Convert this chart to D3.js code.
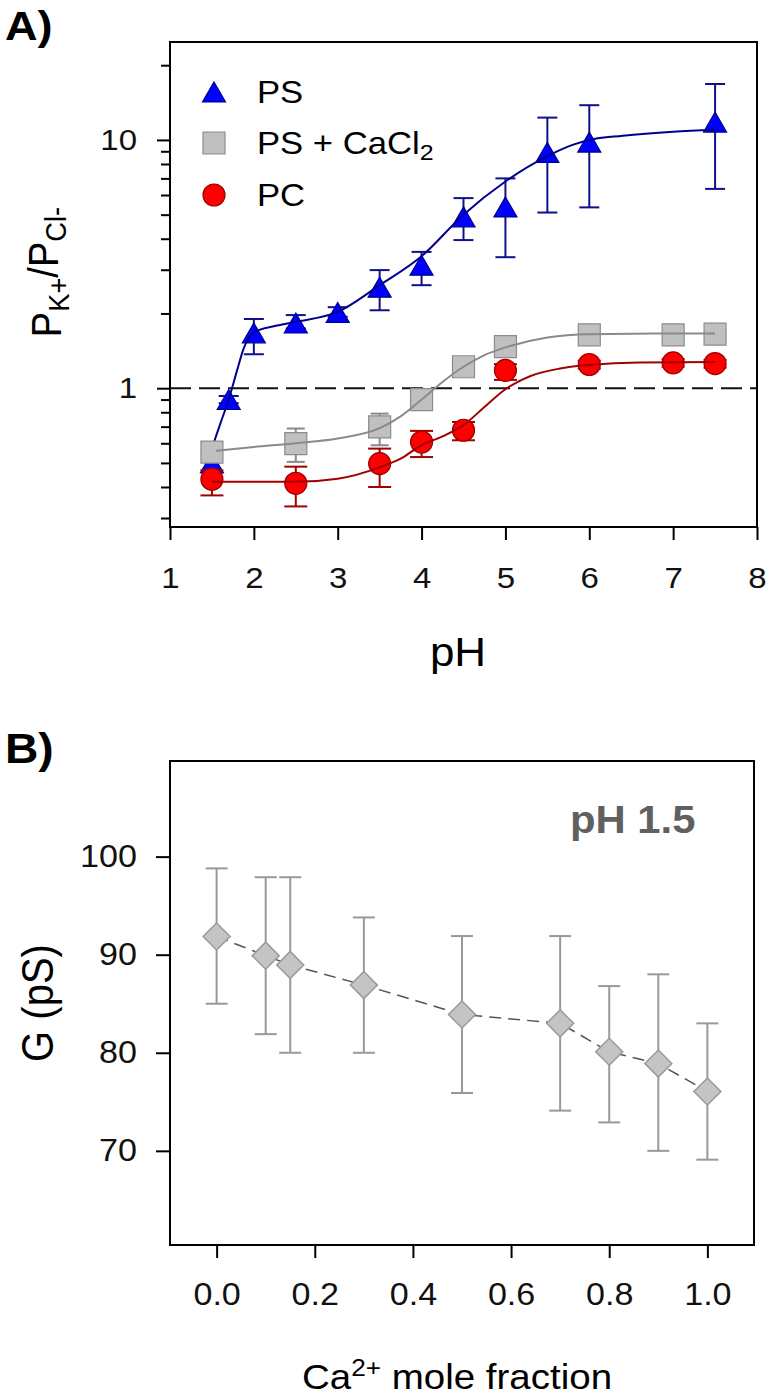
<!DOCTYPE html>
<html><head><meta charset="utf-8">
<script src="https://cdn.jsdelivr.net/npm/d3@7"></script>
<style>body{margin:0;background:#fff} svg{display:block}</style>
</head><body>
<svg id="c" width="768" height="1399"></svg>
<script>
// ---------------- DATA ----------------
// Panel A ticks
const phTicks = [1, 2, 3, 4, 5, 6, 7, 8];
const ratioMajorTicks = [1, 10];
const ratioMinorTicks = [0.3, 0.4, 0.5, 0.6, 0.7, 0.8, 0.9, 2, 3, 4, 5, 6, 7, 8, 9, 20];

// PS (blue triangles)
const psPH  = [1.5, 1.7, 2.0, 2.5, 3.0, 3.5, 4.0, 4.5, 5.0, 5.5, 6.0, 7.5];
const psVal = [0.50, 0.90, 1.67, 1.83, 2.02, 2.55, 3.13, 4.9, 5.37, 8.9, 9.8, 11.8];
const psLo  = [0.47, 0.87, 1.37, 1.74, 1.94, 2.06, 2.60, 3.95, 3.37, 5.1, 5.35, 6.35];
const psHi  = [0.55, 0.93, 1.90, 1.97, 2.12, 2.99, 3.54, 5.83, 7.0, 12.3, 13.8, 16.8];
const psFitPH  = [1.52, 1.6, 1.7, 1.8, 1.88, 2.0, 2.25, 2.5, 3.0, 3.5, 4.0, 4.5, 5.0, 5.5, 5.8, 6.0, 6.4, 7.0, 7.5];
const psFitVal = [0.60, 0.72, 0.90, 1.18, 1.45, 1.68, 1.78, 1.85, 2.03, 2.6, 3.4, 5.0, 6.8, 8.6, 9.55, 10.0, 10.4, 10.8, 11.0];

// PS + CaCl2 (grey squares)
const caPH  = [1.5, 2.5, 3.5, 4.0, 4.5, 5.0, 6.0, 7.0, 7.5];
const caVal = [0.553, 0.598, 0.698, 0.90, 1.22, 1.47, 1.64, 1.64, 1.65];
const caLo  = [0.553, 0.505, 0.589, 0.90, 1.22, 1.47, 1.64, 1.64, 1.65];
const caHi  = [0.553, 0.688, 0.790, 0.90, 1.22, 1.47, 1.64, 1.64, 1.65];
const caFitPH  = [1.55, 2.0, 2.5, 3.0, 3.5, 3.75, 4.0, 4.25, 4.5, 4.75, 5.0, 5.5, 6.0, 7.0, 7.5];
const caFitVal = [0.56, 0.58, 0.60, 0.627, 0.69, 0.77, 0.90, 1.06, 1.22, 1.36, 1.46, 1.60, 1.65, 1.66, 1.66];

// PC (red circles)
const pcPH  = [1.5, 2.5, 3.5, 4.0, 4.5, 5.0, 6.0, 7.0, 7.5];
const pcVal = [0.430, 0.414, 0.497, 0.607, 0.677, 1.18, 1.246, 1.265, 1.257];
const pcLo  = [0.370, 0.334, 0.400, 0.528, 0.617, 1.08, 1.20, 1.22, 1.21];
const pcHi  = [0.467, 0.483, 0.571, 0.673, 0.731, 1.25, 1.29, 1.31, 1.30];
const pcFitPH  = [1.5, 2.0, 2.5, 3.0, 3.5, 3.75, 4.0, 4.25, 4.5, 4.75, 5.0, 5.3, 5.65, 6.0, 6.6, 7.5];
const pcFitVal = [0.42, 0.42, 0.42, 0.432, 0.48, 0.52, 0.59, 0.64, 0.71, 0.84, 0.99, 1.12, 1.20, 1.24, 1.27, 1.275];

const legendLabels = ["PS", "PS + CaCl", "PC"];

// Panel B
const caFracTicks = [0.0, 0.2, 0.4, 0.6, 0.8, 1.0];
const gTicks = [70, 80, 90, 100];
const caFrac = [0.0, 0.1, 0.15, 0.3, 0.5, 0.7, 0.8, 0.9, 1.0];
const gVal   = [91.85, 89.9, 88.96, 86.9, 83.9, 83.0, 80.1, 78.9, 76.05];
const gHi    = [98.8, 97.9, 97.9, 93.8, 91.9, 91.9, 86.8, 88.0, 83.0];
const gLo    = [85.0, 81.9, 80.0, 80.0, 75.9, 74.1, 72.9, 70.0, 69.1];

// ---------------- DRAWING ----------------
const FONT = "'Liberation Sans', Arial, Helvetica, sans-serif";
const SX = 1.1; // horizontal glyph stretch seen in the reference
const svg = d3.select("#c");

function stxt(parent, x, y, size, opts = {}) {
  let tr = `translate(${x},${y}) scale(${SX},1)`;
  if (opts.rotate) tr += ` rotate(${opts.rotate})`;
  const t = parent.append("text").attr("transform", tr)
    .attr("font-family", FONT).attr("font-size", size)
    .attr("text-anchor", opts.anchor || "start")
    .attr("fill", opts.fill || "#000");
  if (opts.weight) t.attr("font-weight", opts.weight);
  return t;
}

// custom triangle centred on its bounding box
const triSym = {
  draw(ctx, size) {
    const w = Math.sqrt(size * 4 / Math.sqrt(3));
    const h = w * Math.sqrt(3) / 2;
    ctx.moveTo(0, -h / 2);
    ctx.lineTo(w / 2, h / 2);
    ctx.lineTo(-w / 2, h / 2);
    ctx.closePath();
  }
};

// ===== Panel A =====
const A = {left: 170, right: 757, top: 42, bottom: 527};
const xA = d3.scaleLinear().domain([1, 8]).range([A.left, A.right]);
const yA = d3.scaleLog().domain([0.276, 24.8]).range([A.bottom, A.top]);
const gA = svg.append("g");

// reference line at 1
gA.append("line")
  .attr("x1", xA(1)).attr("x2", xA(8)).attr("y1", yA(1)).attr("y2", yA(1))
  .attr("stroke", "#111").attr("stroke-width", 2).attr("stroke-dasharray", "21,8");

function drawSeries(g, xs, vals, lo, hi, fx, fy, st) {
  const pts = xs.map((x, i) => ({x, v: vals[i], lo: lo[i], hi: hi[i]}));
  const eb = g.append("g").attr("stroke", st.err).attr("stroke-width", 2);
  pts.forEach(p => {
    if (p.hi - p.lo <= 1e-9) return;
    const X = xA(p.x);
    eb.append("line").attr("x1", X).attr("x2", X).attr("y1", yA(p.lo)).attr("y2", yA(p.hi));
    [p.lo, p.hi].forEach(e => eb.append("line").attr("x1", X - st.cap / 2).attr("x2", X + st.cap / 2)
      .attr("y1", yA(e)).attr("y2", yA(e)));
  });
  g.append("g").selectAll("path").data(pts).join("path")
    .attr("transform", d => `translate(${xA(d.x)},${yA(d.v)})`)
    .attr("d", d3.symbol().type(st.sym).size(st.size))
    .attr("fill", st.fill).attr("stroke", st.stroke).attr("stroke-width", 1.2);
  const line = d3.line().x(d => xA(d[0])).y(d => yA(d[1])).curve(d3.curveMonotoneX);
  g.append("path").datum(fx.map((x, i) => [x, fy[i]]))
    .attr("d", line).attr("fill", "none").attr("stroke", st.line).attr("stroke-width", 2);
}

const styPS = {sym: triSym, size: 229, fill: "#0000ff", stroke: "#00008b", err: "#10108a", line: "#00008b", cap: 20};
const styCa = {sym: d3.symbolSquare, size: 484, fill: "#c0c0c0", stroke: "#8c8c8c", err: "#8a8a8a", line: "#8a8a8a", cap: 18};
const styPC = {sym: d3.symbolCircle, size: 380, fill: "#ff0000", stroke: "#9a0000", err: "#a00000", line: "#a00000", cap: 23};

drawSeries(gA.append("g"), psPH, psVal, psLo, psHi, psFitPH, psFitVal, styPS);
drawSeries(gA.append("g"), caPH, caVal, caLo, caHi, caFitPH, caFitVal, styCa);
drawSeries(gA.append("g"), pcPH, pcVal, pcLo, pcHi, pcFitPH, pcFitVal, styPC);

// frame
gA.append("rect").attr("x", A.left).attr("y", A.top).attr("width", A.right - A.left).attr("height", A.bottom - A.top)
  .attr("fill", "none").attr("stroke", "#000").attr("stroke-width", 2);

// axes A
const axYA = gA.append("g").attr("transform", `translate(${A.left},0)`)
  .call(d3.axisLeft(yA).tickValues(ratioMajorTicks.concat(ratioMinorTicks))
    .tickSize(13).tickPadding(20)
    .tickFormat(d => ratioMajorTicks.includes(d) ? d3.format("d")(d) : ""));
axYA.select(".domain").remove();
axYA.selectAll(".tick line").attr("stroke", "#000").attr("stroke-width", 2)
  .attr("x2", d => ratioMajorTicks.includes(d) ? -13 : -9);
axYA.selectAll(".tick text").attr("font-family", FONT).attr("font-size", 30).attr("fill", "#111")
  .each(function () { const t = d3.select(this); t.attr("x", +t.attr("x") / SX).attr("transform", `scale(${SX},1)`); });

const axXA = gA.append("g").attr("transform", `translate(0,${A.bottom})`)
  .call(d3.axisBottom(xA).tickValues(phTicks).tickSize(13).tickPadding(27).tickFormat(d3.format("d")));
axXA.select(".domain").remove();
axXA.selectAll(".tick line").attr("stroke", "#000").attr("stroke-width", 2);
axXA.selectAll(".tick text").attr("font-family", FONT).attr("font-size", 30).attr("fill", "#111")
  .attr("transform", `scale(${SX},1)`);

// legend
const legSty = [styPS, styCa, styPC];
const legY = [92, 143, 195];
legSty.forEach((st, i) => {
  gA.append("path").attr("transform", `translate(214,${legY[i]})`)
    .attr("d", d3.symbol().type(st.sym).size(st.size))
    .attr("fill", st.fill).attr("stroke", st.stroke).attr("stroke-width", 1.2);
  const t = stxt(gA, 257, legY[i] + 11, 31.5);
  t.append("tspan").text(legendLabels[i]);
  if (i === 1) t.append("tspan").attr("font-size", "0.72em").attr("dy", "0.28em").text("2");
});

// axis titles A
const yt = stxt(gA, 61, 272, 38, {anchor: "middle", rotate: -90});
yt.append("tspan").text("P");
yt.append("tspan").attr("font-size", "0.72em").attr("dy", "0.25em").text("K+");
yt.append("tspan").attr("dy", "-0.25em").text("/P");
yt.append("tspan").attr("font-size", "0.72em").attr("dy", "0.25em").text("Cl-");
stxt(gA, 458, 666, 40, {anchor: "middle"}).text("pH");
stxt(gA, 5, 40, 41, {weight: "bold"}).text("A)");

// ===== Panel B =====
const B = {left: 170, right: 754, top: 761, bottom: 1245};
const xB = d3.scaleLinear().domain([-0.095, 1.095]).range([B.left, B.right]);
const yB = d3.scaleLinear().domain([60.4, 109.75]).range([B.bottom, B.top]);
const gB = svg.append("g");

const ptsB = caFrac.map((x, i) => ({x, v: gVal[i], lo: gLo[i], hi: gHi[i]}));
const ebB = gB.append("g").attr("stroke", "#999").attr("stroke-width", 2);
ptsB.forEach(p => {
  const X = xB(p.x);
  ebB.append("line").attr("x1", X).attr("x2", X).attr("y1", yB(p.lo)).attr("y2", yB(p.hi));
  [p.lo, p.hi].forEach(e => ebB.append("line").attr("x1", X - 11).attr("x2", X + 11).attr("y1", yB(e)).attr("y2", yB(e)));
});
gB.append("path").datum(ptsB)
  .attr("d", d3.line().x(d => xB(d.x)).y(d => yB(d.v)))
  .attr("fill", "none").attr("stroke", "#555").attr("stroke-width", 1.5).attr("stroke-dasharray", "12,7");
gB.append("g").selectAll("path").data(ptsB).join("path")
  .attr("transform", d => `translate(${xB(d.x)},${yB(d.v)}) rotate(45)`)
  .attr("d", d3.symbol().type(d3.symbolSquare).size(365))
  .attr("fill", "#c4c4c4").attr("stroke", "#9a9a9a").attr("stroke-width", 1.5);

gB.append("rect").attr("x", B.left).attr("y", B.top).attr("width", B.right - B.left).attr("height", B.bottom - B.top)
  .attr("fill", "none").attr("stroke", "#000").attr("stroke-width", 2);

const axYB = gB.append("g").attr("transform", `translate(${B.left},0)`)
  .call(d3.axisLeft(yB).tickValues(gTicks).tickSize(14).tickPadding(19).tickFormat(d3.format("d")));
axYB.select(".domain").remove();
axYB.selectAll(".tick line").attr("stroke", "#000").attr("stroke-width", 2);
axYB.selectAll(".tick text").attr("font-family", FONT).attr("font-size", 31).attr("fill", "#111")
  .each(function () { const t = d3.select(this); t.attr("x", +t.attr("x") / SX).attr("transform", `scale(${SX},1)`); });

const axXB = gB.append("g").attr("transform", `translate(0,${B.bottom})`)
  .call(d3.axisBottom(xB).tickValues(caFracTicks).tickSize(13).tickPadding(25).tickFormat(d3.format(".1f")));
axXB.select(".domain").remove();
axXB.selectAll(".tick line").attr("stroke", "#000").attr("stroke-width", 2);
axXB.selectAll(".tick text").attr("font-family", FONT).attr("font-size", 31).attr("fill", "#111")
  .attr("transform", `scale(${SX},1)`);

stxt(gB, 570, 833, 38, {weight: "bold", fill: "#606060"}).text("pH 1.5");
const xt = stxt(gB, 457, 1389, 35, {anchor: "middle"});
xt.append("tspan").text("Ca");
xt.append("tspan").attr("font-size", "0.68em").attr("dy", "-0.55em").text("2+");
xt.append("tspan").attr("dy", "0.37em").text(" mole fraction");
stxt(gB, 53, 1003, 40, {anchor: "middle", rotate: -90}).text("G (pS)");
stxt(gB, 5, 763, 42, {weight: "bold"}).text("B)");
</script>
</body></html>
